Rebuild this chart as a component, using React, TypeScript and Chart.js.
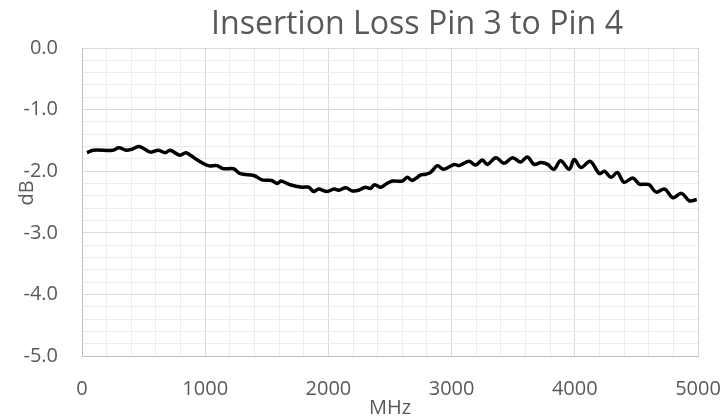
import React, { useEffect, useRef } from "react";
import { Chart, registerables } from "chart.js";

Chart.register(...registerables);

const chartTitle = "Insertion Loss Pin 3 to Pin 4";
const xAxisTitle = "MHz";
const yAxisTitle = "dB";

const freqMHz = [
  40, 90, 250, 300, 360, 410, 465, 555, 620, 675, 715, 795, 845, 930, 1025, 1095, 1150, 1230,
  1285, 1395, 1460, 1540, 1585, 1615, 1690, 1785, 1840, 1880, 1920, 1990, 2045, 2085, 2140,
  2195, 2245, 2300, 2340, 2375, 2425, 2475, 2520, 2600, 2640, 2680, 2750, 2790, 2830, 2885,
  2935, 3020, 3060, 3140, 3195, 3250, 3290, 3360, 3425, 3495, 3560, 3615, 3670, 3725, 3780,
  3830, 3885, 3955, 3995, 4050, 4125, 4200, 4240, 4295, 4345, 4400, 4470, 4525, 4565, 4605,
  4660, 4730, 4795, 4865, 4930, 4990,
];

const lossDb = [
  -1.7, -1.66, -1.66, -1.62, -1.66, -1.64, -1.6, -1.69, -1.66, -1.7, -1.66, -1.74, -1.7, -1.81,
  -1.91, -1.91, -1.96, -1.96, -2.04, -2.07, -2.14, -2.15, -2.2, -2.16, -2.22, -2.26, -2.26,
  -2.33, -2.29, -2.33, -2.29, -2.31, -2.27, -2.32, -2.31, -2.26, -2.28, -2.22, -2.26, -2.2,
  -2.16, -2.16, -2.1, -2.15, -2.06, -2.05, -2.02, -1.91, -1.97, -1.89, -1.91, -1.84, -1.9,
  -1.82, -1.89, -1.78, -1.87, -1.78, -1.85, -1.77, -1.89, -1.86, -1.89, -1.97, -1.83, -1.97,
  -1.81, -1.94, -1.84, -2.04, -2.0, -2.1, -2.02, -2.18, -2.11, -2.21, -2.21, -2.22, -2.34,
  -2.29, -2.43, -2.36, -2.48, -2.46,
];

const xMin = 0;
const xMax = 5000;
const yMin = -5;
const yMax = 0;

const TEXT = "#595959";
const FONT = "'Open Sans', 'DejaVu Sans', sans-serif";

const overlayPlugin = {
  id: "overlayTexts",
  afterDraw(chart: any) {
    const ctx = chart.ctx as CanvasRenderingContext2D;
    ctx.save();
    ctx.fillStyle = TEXT;
    ctx.font = `32px ${FONT}`;
    ctx.textBaseline = "alphabetic";
    ctx.textAlign = "left";
    const w = ctx.measureText(chartTitle).width;
    const target = 412;
    ctx.save();
    ctx.translate(211, 34);
    ctx.scale(target / w, 1);
    ctx.fillText(chartTitle, 0, 0);
    ctx.restore();
    ctx.font = `20px ${FONT}`;
    ctx.textAlign = "center";
    ctx.textBaseline = "middle";
    ctx.fillText(xAxisTitle, 390, 408);
    ctx.save();
    ctx.translate(27, 193);
    ctx.rotate(-Math.PI / 2);
    ctx.fillText(yAxisTitle, 0, 0);
    ctx.restore();
    ctx.restore();
  },
};

export default function App() {
  const ref = useRef<HTMLCanvasElement | null>(null);
  useEffect(() => {
    document.body.style.margin = "0";
    if (!ref.current) return;
    const chart = new Chart(ref.current, {
      type: "line",
      data: {
        datasets: [
          {
            data: freqMHz.map((f, i) => ({ x: f, y: lossDb[i] })),
            borderColor: "#000000",
            borderWidth: 3.5,
            pointRadius: 0,
            tension: 0.35,
            fill: false,
          },
        ],
      },
      options: {
        responsive: false,
        animation: false,
        layout: { padding: { top: 48, right: 24, left: 0, bottom: 0 } },
        plugins: { legend: { display: false }, tooltip: { enabled: false }, title: { display: false } },
        scales: {
          x: {
            type: "linear",
            min: xMin,
            max: xMax,
            afterFit: (s: any) => {
              s.height = 63;
              s.paddingLeft = 0;
              s.paddingRight = 0;
            },
            border: { display: true, color: "#bfbfbf", width: 1 },
            grid: {
              drawTicks: false,
              color: (c: any) => (Math.round(c.tick.value) % 1000 === 0 ? "#d9d9d9" : "#ececec"),
              lineWidth: 1,
            },
            ticks: {
              stepSize: 200,
              autoSkip: false,
              maxRotation: 0,
              padding: 21,
              color: TEXT,
              font: { family: FONT, size: 20 },
              callback: (v: any) => (Math.round(v) % 1000 === 0 ? String(Math.round(v)) : ""),
            },
          },
          y: {
            min: yMin,
            max: yMax,
            afterFit: (s: any) => {
              s.width = 82;
              s.paddingTop = 0;
              s.paddingBottom = 0;
            },
            border: { display: true, color: "#bfbfbf", width: 1 },
            grid: {
              drawTicks: false,
              color: (c: any) => (Math.round(c.tick.value * 10) % 10 === 0 ? "#d9d9d9" : "#ececec"),
              lineWidth: 1,
            },
            ticks: {
              stepSize: 0.2,
              autoSkip: false,
              padding: 24,
              color: TEXT,
              font: { family: FONT, size: 20 },
              callback: (v: any) =>
                Math.round(v * 10) % 10 === 0 ? (Math.abs(v) < 1e-9 ? "0.0" : Number(v).toFixed(1)) : "",
            },
          },
        },
      },
      plugins: [overlayPlugin],
    });
    return () => chart.destroy();
  }, []);
  return (
    <div style={{ width: 722, height: 419, background: "#ffffff" }}>
      <canvas ref={ref} width={722} height={419} style={{ display: "block" }} />
    </div>
  );
}
